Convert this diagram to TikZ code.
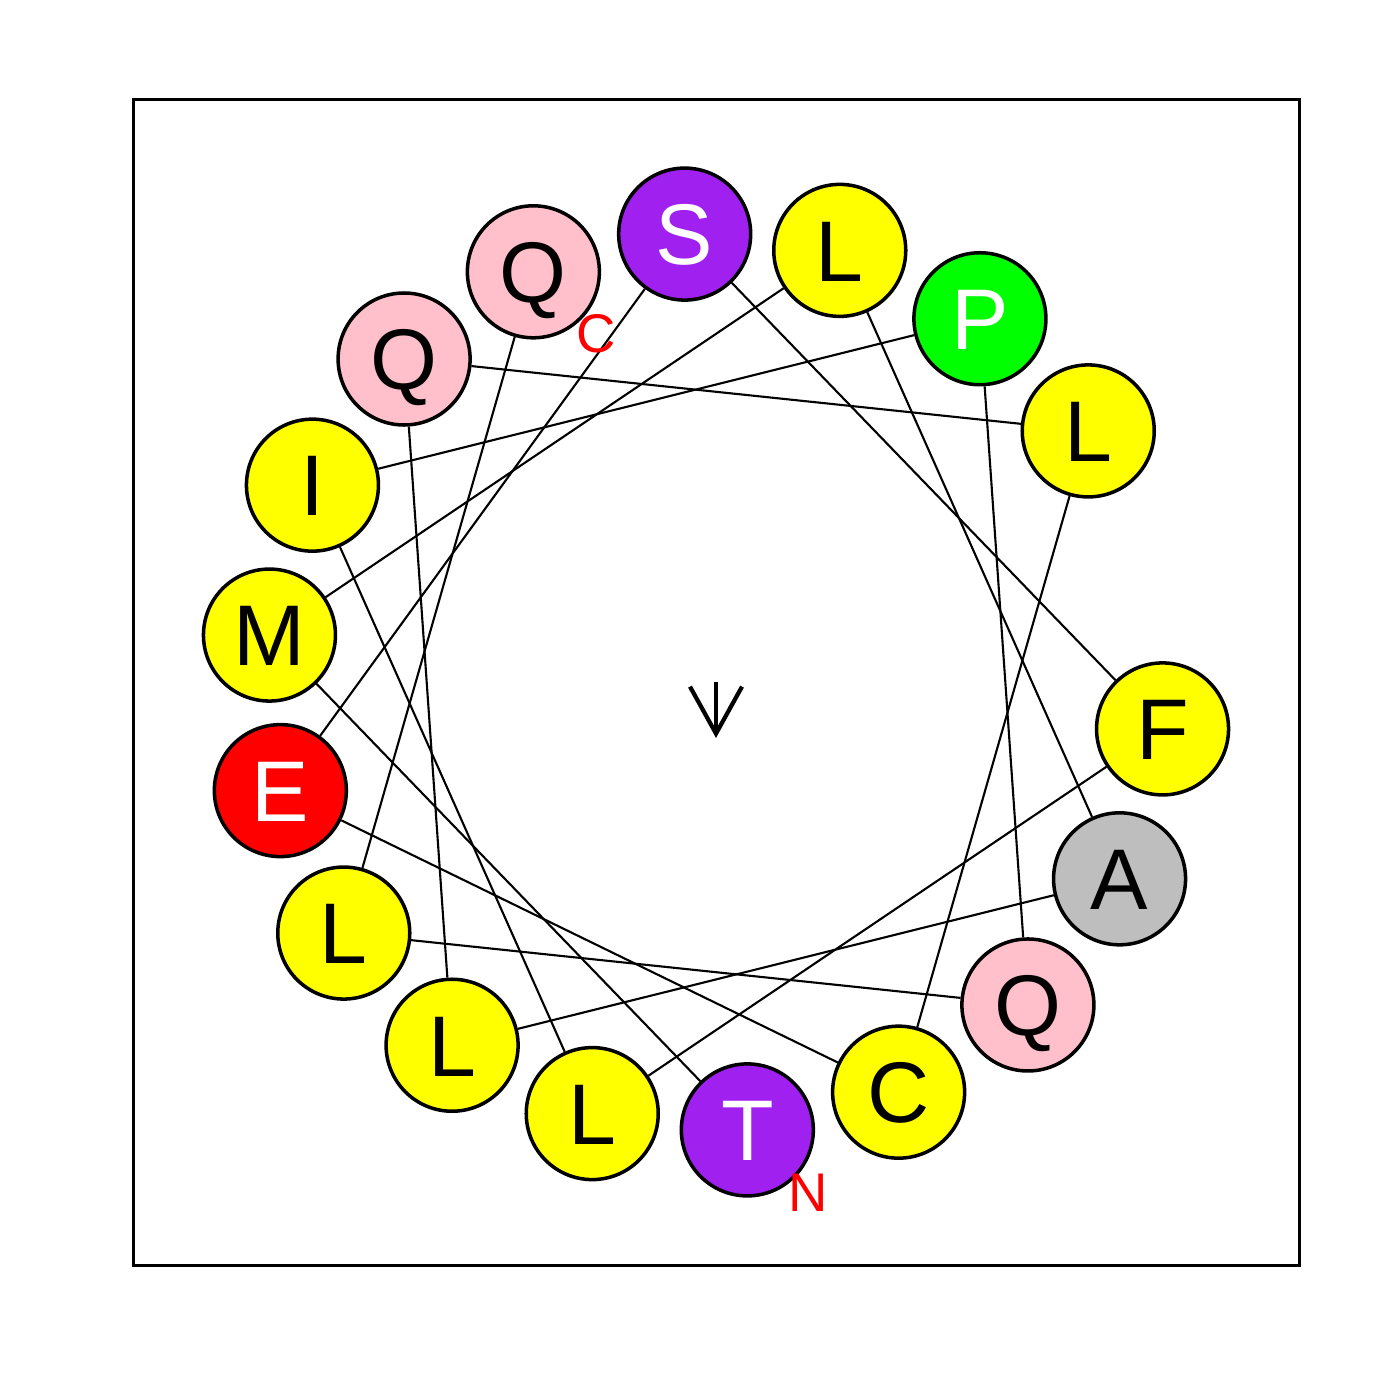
\documentclass[tikz,border=0pt]{standalone}
\usepackage{fontspec}
\setmainfont{Liberation Sans}
\usetikzlibrary{arrows.meta, calc}
\definecolor{respurple}{RGB}{160,32,240}
\definecolor{respink}{RGB}{255,192,203}
\definecolor{resyellow}{RGB}{255,255,0}
\definecolor{resgreen}{RGB}{0,255,0}
\definecolor{resred}{RGB}{255,0,0}
\definecolor{resgray}{RGB}{190,190,190}

\tikzset{
  residue/.style={circle, draw=black, line width=1pt, minimum size=1.32cm,
    inner sep=0pt, font=\fontsize{24.5}{28}\selectfont,
    text height=17.5pt, text depth=0pt},
  termlabel/.style={text=red, font=\fontsize{15.5}{18}\selectfont, inner sep=0pt},
  bond/.style={line width=0.6pt}
}

\begin{document}
\begin{tikzpicture}
  \useasboundingbox (0,0) rectangle (14,14);

  % Frame
  \draw[line width=0.85pt] (1.335,1.345) rectangle (12.99,13.0);
  \coordinate (ctr) at (7.16,7.18);

  % Residues, 100 degrees apart
  \foreach \aa/\fillcol/\txtcol [count=\i from 0] in
    {T/respurple/white, M/resyellow/black, L/resyellow/black,
     A/resgray/black, L/resyellow/black, Q/respink/black,
     L/resyellow/black, C/resyellow/black, E/resred/white,
     S/respurple/white, F/resyellow/black, L/resyellow/black,
     I/resyellow/black, P/resgreen/white, Q/respink/black,
     L/resyellow/black, Q/respink/black}
    \node[residue, fill=\fillcol, text=\txtcol] (r\i)
      at ($(ctr)+({274-100*\i}:4.49)$) {\aa};

  % Bonds
  \foreach \i [evaluate=\i as \j using int(\i+1)] in {0,...,15}
    \draw[bond] (r\i) -- (r\j);

  % Termini
  \node[termlabel] (nterm) at ($(r0)+(0.61,-0.63)$) {N};
  \node[termlabel] (cterm) at ($(r16)+(0.63,-0.62)$) {C};

  % Moment arrow
  \coordinate (mtip) at ($(ctr)+(0,-0.56)$);
  \draw[line width=1.2pt, -{Straight Barb[length=4.7mm, width=5.2mm]}] (ctr) -- (mtip);
\end{tikzpicture}
\end{document}
